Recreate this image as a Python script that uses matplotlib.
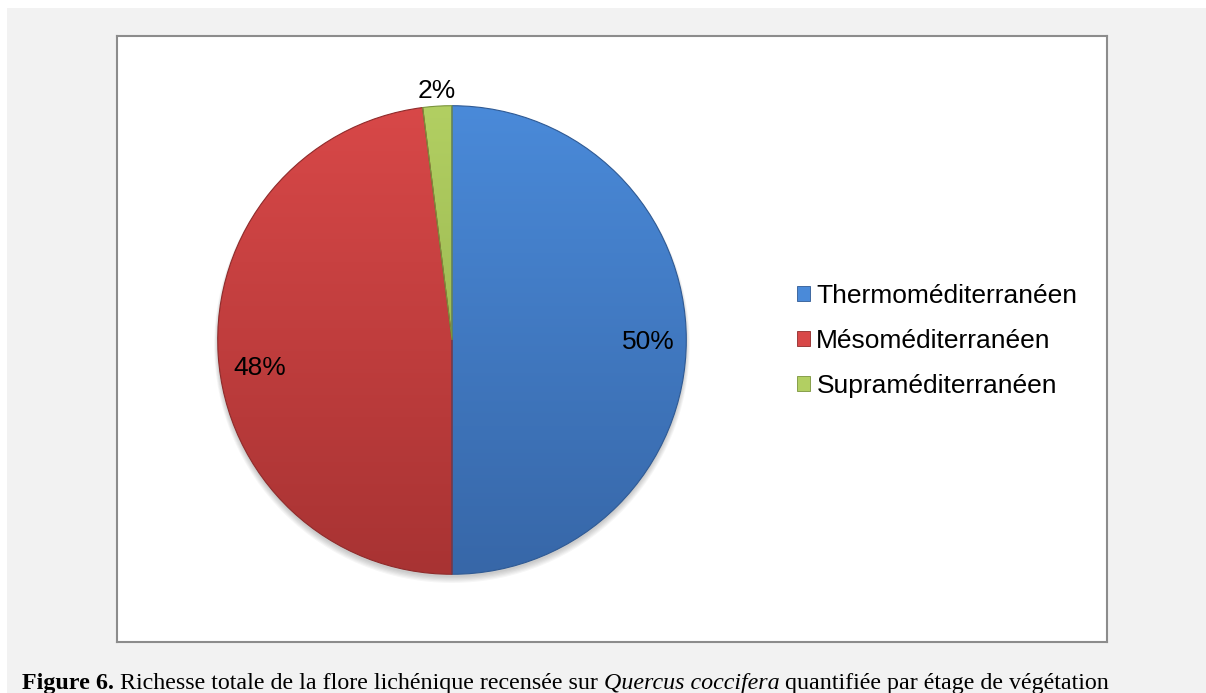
import numpy as np
import matplotlib.pyplot as plt
from matplotlib.colors import LinearSegmentedColormap

categories = ["Thermoméditerranéen", "Mésoméditerranéen", "Supraméditerranéen"]
values = [50, 48, 2]
top_colors = ["#4a8ad9", "#d84848", "#b2cf62"]
bottom_colors = ["#3767a8", "#a83333", "#8aa846"]
edge_colors = ["#2f5a94", "#8f2b2b", "#7a943c"]

caption_parts = [
    ("Figure 6.", "bold", "normal"),
    (" Richesse totale de la flore lichénique recensée sur ", "normal", "normal"),
    ("Quercus coccifera", "normal", "italic"),
    (" quantifiée par étage de végétation", "normal", "normal"),
]

W, H = 1206, 693
fig = plt.figure(figsize=(W / 100, H / 100), dpi=100)
fig.patch.set_facecolor("white")

# grey page with white chart frame
bg = fig.add_axes([7 / W, 0, 1 - 7 / W, 1 - 8 / H])
bg.set_facecolor("#f2f2f2")
bg.set_xticks([])
bg.set_yticks([])
for s in bg.spines.values():
    s.set_visible(False)

frame = fig.add_axes([117 / W, (H - 642) / H, (1107 - 117) / W, (642 - 36) / H])
frame.set_xticks([])
frame.set_yticks([])
for s in frame.spines.values():
    s.set_color("#8c8c8c")
    s.set_linewidth(1.5)

cx, cy, r = 452, 340, 235
ax = fig.add_axes([(cx - r) / W, (H - cy - r) / H, 2 * r / W, 2 * r / H])

# soft shadow under the pie
for k in range(6):
    ax.add_patch(plt.Circle((0, -0.012 - 0.002 * k), 1 + 0.003 * k,
                            color="black", alpha=0.035, lw=0, zorder=0,
                            clip_on=False))

wedges, texts, autotexts = ax.pie(
    values, startangle=90, counterclock=False, radius=1,
    colors=top_colors, autopct="%d%%", pctdistance=0.82,
    textprops=dict(fontsize=19, family="Liberation Sans", color="black"),
    wedgeprops=dict(linewidth=0.8),
)
ax.set_xlim(-1.003, 1.003)
ax.set_ylim(-1.003, 1.003)
ax.axis("off")

grad = np.linspace(0, 1, 256).reshape(-1, 1)
for w, c0, c1, ec in zip(wedges, top_colors, bottom_colors, edge_colors):
    w.set_edgecolor(ec)
    w.set_clip_on(False)
    cmap = LinearSegmentedColormap.from_list("g", [c1, c0])
    im = ax.imshow(grad, cmap=cmap, extent=[-1, 1, -1, 1], origin="lower",
                   aspect="auto", zorder=w.get_zorder() - 0.01)
    im.set_clip_path(w)
    w.set_facecolor("none")

# adjust label positions
autotexts[0].set_position((0.84, -0.01))
autotexts[1].set_position((-0.82, -0.12))
ang = np.deg2rad((wedges[2].theta1 + wedges[2].theta2) / 2)
autotexts[2].set_position((1.07 * np.cos(ang), 1.065 * np.sin(ang)))
for t in autotexts:
    t.set_zorder(5)

handles = [plt.Rectangle((0, 0), 1, 1, facecolor=c, edgecolor=e, linewidth=0.6)
           for c, e in zip(top_colors, edge_colors)]
fig.legend(handles, categories, loc="center left",
           bbox_to_anchor=(786 / W, 1 - 341 / H), frameon=False,
           prop=dict(family="Liberation Sans", size=19),
           handlelength=0.5, handleheight=0.5, handletextpad=0.25,
           labelspacing=0.8, borderaxespad=0)

renderer = fig.canvas.get_renderer()
x = 22
for txt, weight, style in caption_parts:
    t = fig.text(x / W, 1 - 689 / H, txt, fontsize=17.3, fontweight=weight,
                 fontstyle=style, family="Liberation Serif", va="baseline")
    x += t.get_window_extent(renderer).width

fig.savefig("out.png", dpi=100, facecolor=fig.get_facecolor())
